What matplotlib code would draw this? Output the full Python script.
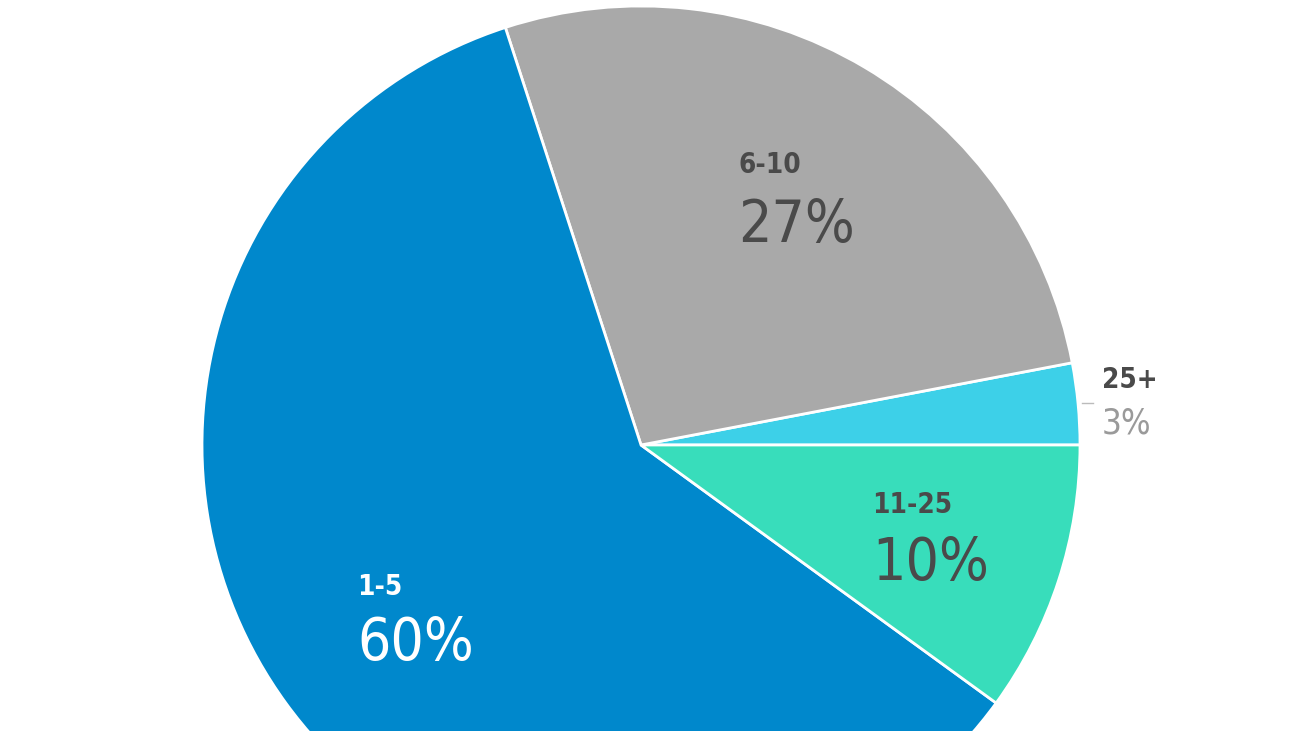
import matplotlib
matplotlib.use("Agg")
import matplotlib.pyplot as plt

# slice data, in drawing order (counterclockwise from 3 o'clock)
groups = ["25+", "6-10", "1-5", "11-25"]
shares = [3, 27, 60, 10]
colors = ["#3dd0e8", "#a9a9a9", "#0088cc", "#38ddbb"]

W, H = 1300, 731
plt.rcParams['font.family'] = ['DejaVu Sans']

fig = plt.figure(figsize=(W / 100, H / 100), dpi=100)
ax = fig.add_axes([0, 0, 1, 1])
ax.pie(shares, colors=colors, startangle=0, counterclock=True,
       center=(641, H - 445), radius=439, frame=True,
       wedgeprops=dict(edgecolor='white', linewidth=2))
ax.set_xlim(0, W)
ax.set_ylim(0, H)
ax.set_aspect('equal')
ax.axis('off')

def y(px):
    # pixel row (from top) -> data y
    return H - px

dark = "#4a4a4a"
# x, label baseline, value baseline, label colour, value colour, value size
label_pos = {
    "6-10": (738, 173, 242, dark, dark, 42),
    "1-5": (357, 595, 660, "white", "white", 42),
    "11-25": (872, 513, 580, dark, dark, 42),
    "25+": (1102, 388, 433, dark, "#9a9a9a", 25),
}
for g, s in zip(groups, shares):
    x0, yb1, yb2, c1, c2, fs = label_pos[g]
    ax.text(x0, y(yb1), g, fontsize=20, fontweight='bold', color=c1,
            fontstretch='condensed', ha='left', va='baseline')
    ax.text(x0, y(yb2), f"{s}%", fontsize=fs, color=c2,
            fontstretch='condensed', ha='left', va='baseline')

# short leader line for the small slice
ax.plot([1082, 1093], [y(403), y(403)], color="#bbbbbb", lw=1)

fig.savefig("out.png", dpi=100, facecolor='white')
